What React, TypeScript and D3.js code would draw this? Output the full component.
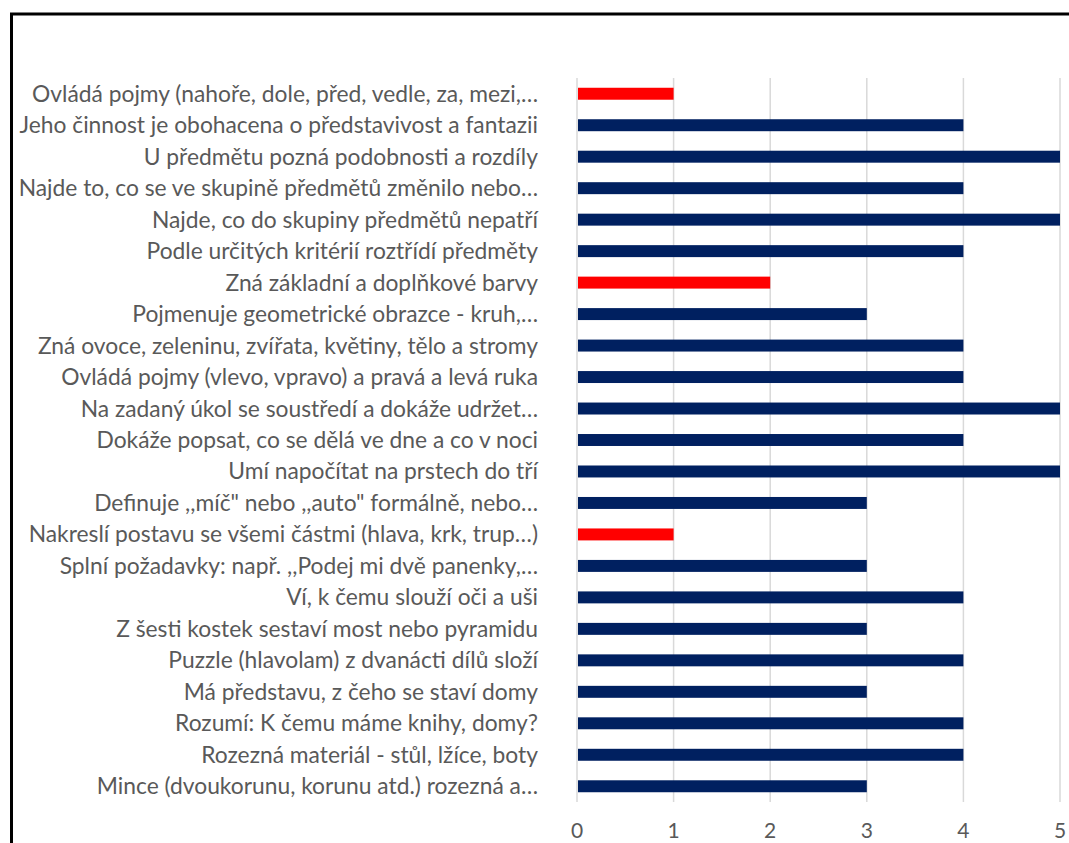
import React, { useEffect, useRef } from "react";
import * as d3 from "d3";

const labels: string[] = [
  "Ovládá pojmy (nahoře, dole, před, vedle, za, mezi,…",
  "Jeho činnost je obohacena o představivost a fantazii",
  "U předmětu pozná podobnosti a rozdíly",
  "Najde to, co se ve skupině předmětů změnilo nebo…",
  "Najde, co do skupiny předmětů nepatří",
  "Podle určitých kritérií roztřídí předměty",
  "Zná základní a doplňkové barvy",
  "Pojmenuje geometrické obrazce - kruh,…",
  "Zná ovoce, zeleninu, zvířata, květiny, tělo a stromy",
  "Ovládá pojmy (vlevo, vpravo) a pravá a levá ruka",
  "Na zadaný úkol se soustředí a dokáže udržet…",
  "Dokáže popsat, co se dělá ve dne a co v noci",
  "Umí napočítat na prstech do tří",
  "Definuje ,,míč\" nebo ,,auto\" formálně, nebo…",
  "Nakreslí postavu se všemi částmi (hlava, krk, trup…)",
  "Splní požadavky: např. ,,Podej mi dvě panenky,…",
  "Ví, k čemu slouží oči a uši",
  "Z šesti kostek sestaví most nebo pyramidu",
  "Puzzle (hlavolam) z dvanácti dílů složí",
  "Má představu, z čeho se staví domy",
  "Rozumí: K čemu máme knihy, domy?",
  "Rozezná materiál - stůl, lžíce, boty",
  "Mince (dvoukorunu, korunu atd.) rozezná a…",
];

const values: number[] = [1, 4, 5, 4, 5, 4, 2, 3, 4, 4, 5, 4, 5, 3, 1, 3, 4, 3, 4, 3, 4, 4, 3];

const xTicks: number[] = [0, 1, 2, 3, 4, 5];

const NAVY = "#002060";
const RED = "#FF0000";
const TEXT = "#595959";
const FONT = "Lato, 'Open Sans', sans-serif";

export default function App() {
  const ref = useRef<SVGSVGElement>(null);

  useEffect(() => {
    const svg = d3.select(ref.current);
    svg.selectAll("*").remove();

    const W = 1069;
    const H = 843;
    const left = 577;
    const right = 1060;
    const top = 78;
    const bottom = 802;

    const x = d3.scaleLinear().domain([0, 5]).range([left, right]);
    const y = d3
      .scaleBand<number>()
      .domain(d3.range(labels.length))
      .range([top, bottom])
      .paddingInner(0.62)
      .paddingOuter(0.31);

    svg.append("rect").attr("width", W).attr("height", H).attr("fill", "#fff");

    // vertical gridlines
    svg
      .append("g")
      .selectAll("line")
      .data(xTicks)
      .join("line")
      .attr("x1", (d) => x(d))
      .attr("x2", (d) => x(d))
      .attr("y1", top)
      .attr("y2", bottom)
      .attr("stroke", "#d9d9d9")
      .attr("stroke-width", 1.5);

    // bars
    svg
      .append("g")
      .selectAll("rect")
      .data(values)
      .join("rect")
      .attr("x", x(0) + 1)
      .attr("y", (_, i) => y(i)!)
      .attr("width", (d) => x(d) - x(0) - 1)
      .attr("height", y.bandwidth())
      .attr("fill", (d) => (d <= 2 ? RED : NAVY));

    // category labels
    svg
      .append("g")
      .selectAll("text")
      .data(labels)
      .join("text")
      .attr("x", 538)
      .attr("y", (_, i) => y(i)! + y.bandwidth() / 2)
      .attr("dy", "0.35em")
      .attr("text-anchor", "end")
      .attr("font-family", FONT)
      .attr("font-size", 22.8)
      .attr("fill", TEXT)
      .text((d) => d);

    // x tick labels
    svg
      .append("g")
      .selectAll("text")
      .data(xTicks)
      .join("text")
      .attr("x", (d) => x(d))
      .attr("y", 831)
      .attr("dy", "0.35em")
      .attr("text-anchor", "middle")
      .attr("font-family", FONT)
      .attr("font-size", 21)
      .attr("fill", TEXT)
      .text((d) => String(d));

    // chart frame
    svg
      .append("rect")
      .attr("x", 11.5)
      .attr("y", 14)
      .attr("width", 1200)
      .attr("height", 1000)
      .attr("fill", "none")
      .attr("stroke", "#000")
      .attr("stroke-width", 3);
  }, []);

  return (
    <svg
      ref={ref}
      width={1069}
      height={843}
      style={{ position: "absolute", left: 0, top: 0, display: "block" }}
    />
  );
}
